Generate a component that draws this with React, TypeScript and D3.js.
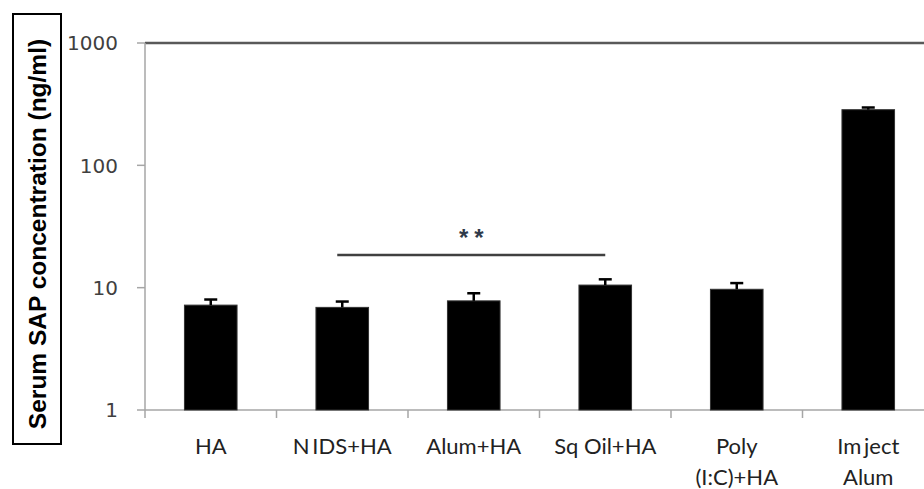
import React, { useEffect, useRef } from 'react';
import * as d3 from 'd3';

const categories = ['HA', 'NIDS+HA', 'Alum+HA', 'Sq Oil+HA', 'Poly\n(I:C)+HA', 'Imject\nAlum'];
const labelLines = [['HA'], ['N\u2009IDS+HA'], ['Alum+HA'], ['Sq Oil+HA'], ['Poly', '(I:C)+HA'], ['Im\u2009ject', 'Alum']];
const means = [7.2, 6.9, 7.8, 10.5, 9.7, 285];
const errors = [0.8, 0.8, 1.2, 1.2, 1.2, 12];
const yTicks = [1, 10, 100, 1000];
const sigPair = ['NIDS+HA', 'Sq Oil+HA'];

const App: React.FC = () => {
  const svgRef = useRef<SVGSVGElement>(null);

  useEffect(() => {
    if (!svgRef.current) return;
    d3.select(svgRef.current).selectAll('*').remove();

    const W = 924;
    const H = 489;
    const left = 145;
    const top = 43;
    const bottom = 410;
    const step = 131.5;

    const svg = d3.select(svgRef.current).attr('width', W).attr('height', H);

    const x = d3.scaleBand<string>()
      .domain(categories)
      .range([left, left + step * categories.length])
      .paddingInner(0.6)
      .paddingOuter(0.3);
    const y = d3.scaleLog().domain([1, 1000]).range([bottom, top]);

    // top gridline at 1000
    svg.append('line')
      .attr('x1', left).attr('x2', W)
      .attr('y1', y(1000)).attr('y2', y(1000))
      .attr('stroke', '#595959').attr('stroke-width', 2.5);

    // y axis
    svg.append('line')
      .attr('x1', left).attr('x2', left)
      .attr('y1', top).attr('y2', bottom)
      .attr('stroke', '#a6a6a6').attr('stroke-width', 1.5);

    svg.selectAll('.ytick')
      .data(yTicks)
      .enter()
      .append('line')
      .attr('x1', left - 8).attr('x2', left)
      .attr('y1', d => y(d)).attr('y2', d => y(d))
      .attr('stroke', '#a6a6a6').attr('stroke-width', 1.5);

    svg.selectAll('.ylabel')
      .data(yTicks)
      .enter()
      .append('text')
      .attr('x', 118)
      .attr('y', d => y(d))
      .attr('dy', '0.36em')
      .attr('text-anchor', 'end')
      .attr('font-family', 'DejaVu Sans')
      .attr('font-size', 20)
      .attr('fill', '#404040')
      .text(d => d);

    // x axis
    svg.append('line')
      .attr('x1', left).attr('x2', W)
      .attr('y1', bottom).attr('y2', bottom)
      .attr('stroke', '#a6a6a6').attr('stroke-width', 1.5);

    const bounds = d3.range(categories.length + 1).map(i => left + i * x.step());
    svg.selectAll('.xtick')
      .data(bounds)
      .enter()
      .append('line')
      .attr('x1', d => d).attr('x2', d => d)
      .attr('y1', bottom).attr('y2', bottom + 8)
      .attr('stroke', '#a6a6a6').attr('stroke-width', 1.5);

    // bars
    svg.selectAll('.bar')
      .data(means)
      .enter()
      .append('rect')
      .attr('x', (d, i) => x(categories[i])!)
      .attr('y', d => y(d))
      .attr('width', x.bandwidth())
      .attr('height', d => bottom - y(d))
      .attr('fill', '#000')
      .attr('stroke', '#333')
      .attr('stroke-width', 1);

    // error bars
    const cx = (i: number) => x(categories[i])! + x.bandwidth() / 2;
    means.forEach((m, i) => {
      svg.append('line')
        .attr('x1', cx(i)).attr('x2', cx(i))
        .attr('y1', y(m)).attr('y2', y(m + errors[i]))
        .attr('stroke', '#000').attr('stroke-width', 2.5);
      svg.append('line')
        .attr('x1', cx(i) - 6.5).attr('x2', cx(i) + 6.5)
        .attr('y1', y(m + errors[i])).attr('y2', y(m + errors[i]))
        .attr('stroke', '#000').attr('stroke-width', 2.5);
    });

    // x labels
    labelLines.forEach((lines, i) => {
      lines.forEach((t, j) => {
        svg.append('text')
          .attr('x', cx(i))
          .attr('y', 454 + j * 31)
          .attr('text-anchor', 'middle')
          .attr('font-family', 'Lato')
          .attr('font-size', 22)
          .attr('fill', '#222')
          .text(t);
      });
    });

    // significance bar
    const i0 = categories.indexOf(sigPair[0]);
    const i1 = categories.indexOf(sigPair[1]);
    const sx0 = cx(i0) - 5;
    const sx1 = cx(i1);
    svg.append('line')
      .attr('x1', sx0).attr('x2', sx1)
      .attr('y1', 255).attr('y2', 255)
      .attr('stroke', '#404040').attr('stroke-width', 2.5);
    svg.append('text')
      .attr('x', (sx0 + sx1) / 2 + 3)
      .attr('y', 246)
      .attr('text-anchor', 'middle')
      .attr('font-family', 'Liberation Sans')
      .attr('font-weight', 'bold')
      .attr('font-size', 24)
      .attr('letter-spacing', 6)
      .attr('fill', '#2f3a4a')
      .text('**');

    // y axis title in a box
    svg.append('rect')
      .attr('x', 13).attr('y', 14)
      .attr('width', 48).attr('height', 430)
      .attr('fill', 'none')
      .attr('stroke', '#000').attr('stroke-width', 2);
    svg.append('text')
      .attr('transform', `translate(46,${(38 + 430) / 2}) rotate(-90)`)
      .attr('text-anchor', 'middle')
      .attr('font-family', 'Liberation Sans')
      .attr('font-weight', 'bold')
      .attr('font-size', 24.5)
      .attr('fill', '#000')
      .text('Serum SAP concentration (ng/ml)');
  }, []);

  return (
    <div style={{ position: 'absolute', left: 0, top: 0, width: 924, height: 489, background: '#fff' }}>
      <svg ref={svgRef}></svg>
    </div>
  );
};

export default App;
